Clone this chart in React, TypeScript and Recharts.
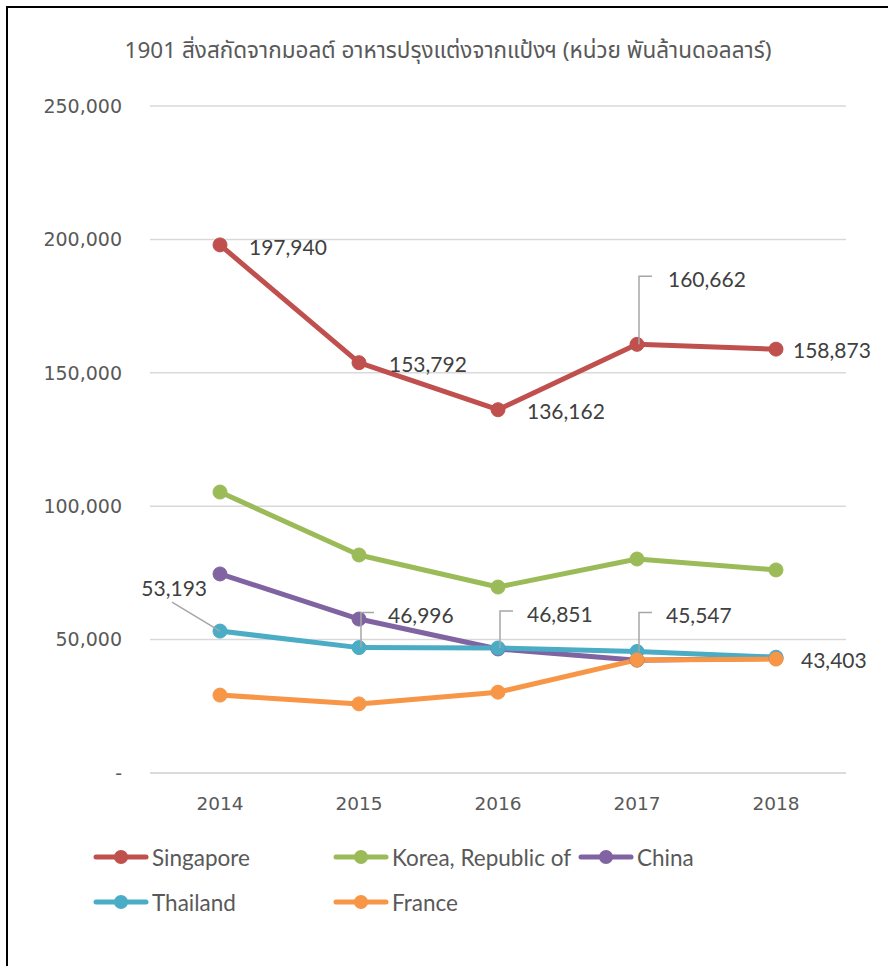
import React from 'react';
import { LineChart, Line, XAxis, YAxis, CartesianGrid } from 'recharts';

const years = ['2014', '2015', '2016', '2017', '2018'];
const singapore = [197940, 153792, 136162, 160662, 158873];
const korea = [105300, 81700, 69700, 80200, 76100];
const china = [74600, 57700, 46500, 42300, 43000];
const thailand = [53193, 46996, 46851, 45547, 43403];
const france = [29200, 25900, 30300, 42400, 42700];
const yTicks = [0, 50000, 100000, 150000, 200000, 250000];
const title = '1901 สิ่งสกัดจากมอลต์ อาหารปรุงแต่งจากแป้งฯ (หน่วย พันล้านดอลลาร์)';

const series = [
  { key: 'Singapore', values: singapore, color: '#C0504D' },
  { key: 'Korea, Republic of', values: korea, color: '#9BBB59' },
  { key: 'China', values: china, color: '#8064A2' },
  { key: 'Thailand', values: thailand, color: '#4BACC6' },
  { key: 'France', values: france, color: '#F79646' },
];

const rows = years.map((y, i) => {
  const r: any = { year: y };
  series.forEach((s) => {
    r[s.key] = s.values[i];
  });
  return r;
});

// label placement (styling only)
type LP = { dx: number; dy: number; anchor?: string; leader?: 'elbow' | 'diag' };
const singaporeLabelPos: LP[] = [
  { dx: 29, dy: 2 },
  { dx: 30, dy: 1 },
  { dx: 29, dy: 1 },
  { dx: 31, dy: -66, leader: 'elbow' },
  { dx: 17, dy: 0 },
];
const thailandLabelPos: LP[] = [
  { dx: -13, dy: -44, anchor: 'end', leader: 'diag' },
  { dx: 29, dy: -33, leader: 'elbow' },
  { dx: 29, dy: -35, leader: 'elbow' },
  { dx: 29, dy: -37, leader: 'elbow' },
  { dx: 25, dy: 2 },
];
const labelPos: Record<string, LP[]> = {
  Singapore: singaporeLabelPos,
  Thailand: thailandLabelPos,
};

const fmt = (v: number) => (v === 0 ? '-' : v.toLocaleString('en-US'));

const makeLabel = (pos: LP[]) => (props: any) => {
  const { x, y, value, index } = props;
  const p = pos[index];
  if (!p) return null;
  const tx = x + p.dx;
  const ty = y + p.dy;
  let leader: any = null;
  if (p.leader === 'elbow') {
    leader = (
      <polyline
        points={`${x + 2},${y} ${x + 2},${ty - 2} ${x + 15},${ty - 2}`}
        fill="none"
        stroke="#A6A6A6"
        strokeWidth={1.5}
      />
    );
  } else if (p.leader === 'diag') {
    leader = <line x1={x - 48} y1={y - 29} x2={x} y2={y} stroke="#A6A6A6" strokeWidth={1.5} />;
  }
  return (
    <g key={`lbl-${index}`}>
      {leader}
      <text
        x={tx}
        y={ty}
        textAnchor={p.anchor || 'start'}
        dominantBaseline="central"
        fontFamily="Lato, 'Open Sans', sans-serif"
        fontSize={21}
        fill="#404040"
      >
        {fmt(value)}
      </text>
    </g>
  );
};

const legendCols = [93, 333, 578, 93, 333];
const legendRows = [857, 857, 857, 902, 902];

export default function App() {
  return (
    <div style={{ position: 'absolute', left: 0, top: 0, width: 888, height: 966, background: '#fff', overflow: 'hidden' }}>
      <div style={{ position: 'absolute', left: 6, top: 6, width: 900, height: 1000, borderTop: '2px solid #000', borderLeft: '2px solid #000' }} />
      <div
        style={{
          position: 'absolute',
          left: 0,
          width: 896,
          top: 36,
          textAlign: 'center',
          fontFamily: "'Noto Sans Thai', Tahoma, 'DejaVu Sans', sans-serif",
          fontSize: 22.5,
          color: '#595959',
          lineHeight: '30px',
        }}
      >
        {title}
      </div>
      <div style={{ position: 'absolute', left: 0, top: 0 }}>
        <LineChart width={888} height={966} data={rows} margin={{ top: 106, right: 42, left: 0, bottom: 153 }}>
          <CartesianGrid vertical={false} stroke="#D9D9D9" strokeWidth={1.5} />
          <XAxis
            dataKey="year"
            height={40}
            padding={{ left: 70, right: 70 }}
            tickLine={false}
            axisLine={{ stroke: '#D9D9D9', strokeWidth: 1.5 }}
            tickMargin={18}
            tick={{ fill: '#595959', fontSize: 18.5, fontFamily: "'DejaVu Sans', sans-serif" }}
          />
          <YAxis
            width={150}
            domain={[0, 250000]}
            ticks={yTicks}
            tickFormatter={fmt}
            tickLine={false}
            axisLine={false}
            tickMargin={22}
            tick={{ fill: '#595959', fontSize: 19, fontFamily: "'DejaVu Sans', sans-serif" }}
          />
          {series.map((s) => (
            <Line
              key={s.key}
              type="linear"
              dataKey={s.key}
              stroke={s.color}
              strokeWidth={5}
              strokeLinejoin="round"
              dot={{ r: 7, fill: s.color, stroke: s.color, strokeWidth: 1 }}
              activeDot={false}
              isAnimationActive={false}
              label={labelPos[s.key] ? makeLabel(labelPos[s.key]) : false}
            />
          ))}
        </LineChart>
      </div>
      {series.map((s, i) => (
        <div
          key={s.key}
          style={{
            position: 'absolute',
            left: legendCols[i],
            top: legendRows[i] - 14,
            height: 28,
            display: 'flex',
            alignItems: 'center',
            fontFamily: "Lato, 'Open Sans', sans-serif",
            fontSize: 22.5,
            color: '#595959',
            whiteSpace: 'nowrap',
          }}
        >
          <svg width={56} height={20} style={{ display: 'block' }}>
            <line x1={3} y1={10} x2={53} y2={10} stroke={s.color} strokeWidth={5} strokeLinecap="round" />
            <circle cx={28} cy={10} r={7} fill={s.color} />
          </svg>
          <span style={{ marginLeft: 3 }}>{s.key}</span>
        </div>
      ))}
    </div>
  );
}
